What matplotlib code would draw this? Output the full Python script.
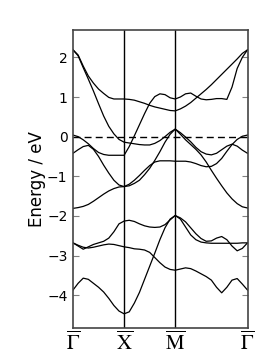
import matplotlib
matplotlib.use('Agg')
import matplotlib.pyplot as plt
import numpy as np

# k-path: Gamma -> X -> M -> Gamma, sampled on a fixed grid
k_gx = [0.0, 0.1, 0.2, 0.3, 0.4, 0.5, 0.6, 0.7, 0.8, 0.9, 1.0]
k_xm = [1.1, 1.2, 1.3, 1.4, 1.5, 1.6, 1.7, 1.8, 1.9, 2.0]
k_mg = [2 + np.sqrt(2) * i / 14 for i in range(1, 15)]
kpath = np.array(k_gx + k_xm + k_mg)

sym_pos = [0.0, 1.0, 2.0, 2 + np.sqrt(2)]
sym_labels = [r'$\overline{\Gamma}$', r'$\overline{\mathrm{X}}$',
              r'$\overline{\mathrm{M}}$', r'$\overline{\Gamma}$']

# band energies (eV), along kpath
band1 = [2.19, 2.06, 1.78, 1.53, 1.35, 1.2, 1.09, 0.99, 0.95, 0.95, 0.95,
         0.94, 0.92, 0.88, 0.84, 0.79, 0.75, 0.72, 0.69, 0.66, 0.65,
         0.7, 0.77, 0.86, 0.97, 1.08, 1.19, 1.31, 1.44, 1.57, 1.7, 1.83, 1.96, 2.1, 2.19]
band2 = [2.19, 2.04, 1.74, 1.45, 1.15, 0.83, 0.52, 0.26, 0.07, -0.07, -0.14,
         -0.16, -0.18, -0.2, -0.21, -0.21, -0.17, -0.1, 0.0, 0.11, 0.19,
         0.1, -0.01, -0.13, -0.27, -0.38, -0.44, -0.46, -0.42, -0.33, -0.24, -0.19, -0.24, -0.34, -0.42]
band3 = [0.04, 0.0, -0.08, -0.18, -0.3, -0.4, -0.45, -0.47, -0.47, -0.47, -0.47,
         -0.25, 0.02, 0.3, 0.58, 0.84, 1.01, 1.08, 1.06, 0.98, 0.95,
         1.0, 1.08, 1.1, 1.02, 0.95, 0.93, 0.94, 0.96, 0.96, 0.94, 1.25, 1.72, 2.0, 2.19]
band4 = [-0.42, -0.33, -0.25, -0.22, -0.32, -0.5, -0.72, -0.92, -1.1, -1.22, -1.26,
         -1.24, -1.18, -1.1, -0.96, -0.8, -0.6, -0.38, -0.14, 0.06, 0.19,
         0.06, -0.08, -0.2, -0.32, -0.46, -0.64, -0.85, -1.05, -1.24, -1.42, -1.57, -1.69, -1.77, -1.8]
band5 = [-1.81, -1.79, -1.76, -1.71, -1.63, -1.54, -1.45, -1.37, -1.31, -1.27, -1.26,
         -1.2, -1.1, -0.98, -0.85, -0.73, -0.64, -0.61, -0.61, -0.61, -0.62,
         -0.62, -0.62, -0.64, -0.68, -0.73, -0.76, -0.75, -0.68, -0.55, -0.37, -0.2, -0.07, 0.01, 0.04]
band6 = [-2.68, -2.76, -2.84, -2.78, -2.72, -2.68, -2.64, -2.56, -2.4, -2.2, -2.13,
         -2.11, -2.14, -2.2, -2.25, -2.28, -2.29, -2.28, -2.22, -2.1, -1.99,
         -2.08, -2.28, -2.48, -2.6, -2.66, -2.68, -2.69, -2.69, -2.69, -2.69, -2.69, -2.69, -2.68, -2.68]
band7 = [-2.68, -2.74, -2.79, -2.81, -2.79, -2.76, -2.73, -2.71, -2.72, -2.75, -2.78,
         -2.8, -2.83, -2.84, -2.86, -2.92, -3.05, -3.18, -3.29, -3.35, -3.37,
         -3.34, -3.31, -3.33, -3.39, -3.46, -3.53, -3.62, -3.8, -3.94, -3.8, -3.62, -3.58, -3.72, -3.87]
band8 = [-3.87, -3.7, -3.57, -3.6, -3.7, -3.8, -3.92, -4.08, -4.26, -4.4, -4.47,
         -4.42, -4.2, -3.93, -3.6, -3.27, -2.94, -2.6, -2.3, -2.08, -1.99,
         -2.05, -2.15, -2.3, -2.45, -2.57, -2.64, -2.63, -2.56, -2.52, -2.6, -2.76, -2.88, -2.82, -2.68]
bands = [band1, band2, band3, band4, band5, band6, band7, band8]

e_fermi = 0.0
yticks = [-4, -3, -2, -1, 0, 1, 2]

plt.rcParams['mathtext.fontset'] = 'stix'

fig = plt.figure(figsize=(2.78, 3.59), dpi=100)
ax = fig.add_axes([0.2626, 0.0872, 0.6277, 0.8292])

for b in bands:
    ax.plot(kpath, b, color='black', lw=0.9)

for p in sym_pos[1:-1]:
    ax.axvline(p, color='black', lw=1.0)
ax.axhline(e_fermi, color='black', lw=1.0, ls='--', dashes=(5, 3))

ax.set_xlim(sym_pos[0], sym_pos[-1])
ax.set_ylim(-4.82, 2.69)
ax.set_xticks(sym_pos)
ax.set_xticklabels(sym_labels, fontsize=15)
ax.set_yticks(yticks)
ax.set_yticklabels([str(t).replace('-', '\u2212') for t in yticks], fontsize=10)
ax.tick_params(axis='x', length=0, pad=2)
ax.tick_params(axis='y', direction='in', length=4, color='gray', right=True, pad=4)
ax.set_ylabel('Energy / eV', fontsize=12, labelpad=1)
for s in ax.spines.values():
    s.set_color('#444444')
    s.set_linewidth(1.2)

fig.savefig('out.png', dpi=100)
